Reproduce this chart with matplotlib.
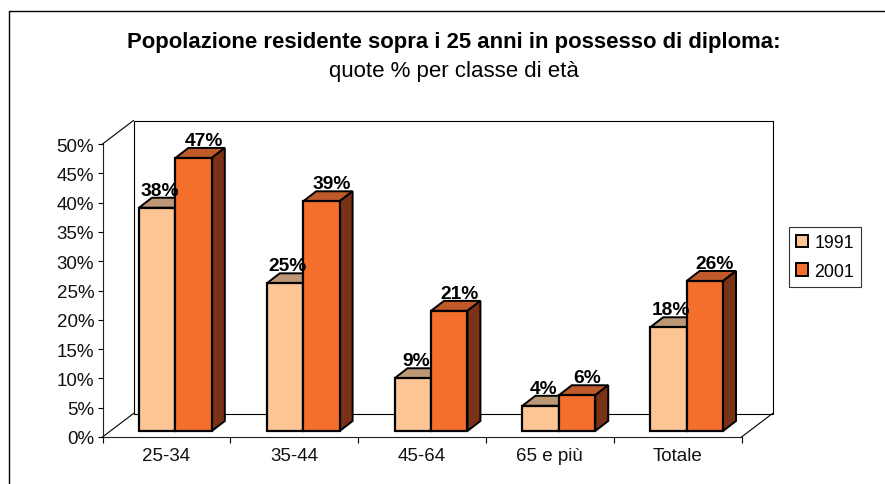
import matplotlib as mpl
mpl.use('agg')
import matplotlib.pyplot as plt
from matplotlib.patches import Polygon, Rectangle
from matplotlib.transforms import Affine2D

plt.rcParams['font.family'] = ['Liberation Sans', 'DejaVu Sans']

categories = ['25-34', '35-44', '45-64', '65 e più', 'Totale']
val_1991 = [38.1, 25.2, 9.0, 4.3, 17.7]
val_2001 = [46.6, 39.2, 20.5, 6.1, 25.6]
lab_1991 = ['38%', '25%', '9%', '4%', '18%']
lab_2001 = ['47%', '39%', '21%', '6%', '26%']
yticks = [0, 5, 10, 15, 20, 25, 30, 35, 40, 45, 50]

W, H = 885, 485
fig = plt.figure(figsize=(W / 100, H / 100), dpi=100)
# chart border, runs off the picture at the bottom and on the right
fig.add_artist(plt.Line2D([9 / W, 9 / W, 1], [0, 1 - 11.5 / H, 1 - 11.5 / H], color='black', lw=1.0))

# axis box in pixels: x 102-741, y 145-438
ax = fig.add_axes([102.5 / W, 1 - 438 / H, 639 / W, 293 / H])
ax.set_xlim(0, 5)
ax.set_ylim(0, 50)
ax.patch.set_alpha(0)
for s in ['top', 'right']:
    ax.spines[s].set_visible(False)
for s in ['left', 'bottom']:
    ax.spines[s].set_linewidth(0.8)
    ax.spines[s].set_color('#222222')
ax.set_xticks(range(6))
ax.set_xticklabels([])
ax.set_xticks([i + 0.5 for i in range(5)], minor=True)
ax.set_xticklabels(categories, minor=True, fontsize=13.5)
ax.tick_params(axis='x', which='minor', length=0, pad=7, colors='#111111')
ax.tick_params(axis='x', which='major', length=4, width=0.8, direction='out')
ax.set_yticks(yticks)
ax.set_yticklabels(['%d%%' % v for v in yticks], fontsize=13.5, color='#111111')
ax.tick_params(axis='y', length=3.5, width=0.8, pad=2.5)


def shifted(dx, dy):
    # oblique depth of the fake 3d, in pixels
    return ax.transData + Affine2D().translate(dx, dy)


# back wall and the three edges going back to it
back = shifted(31, 23.5)
inv = ax.transData.inverted()
ax.plot([0, 0, 5, 5, 0], [0, 50, 50, 0, 0], transform=back, color='black', lw=0.8, clip_on=False, zorder=1)
for px, py in [(0, 0), (0, 50), (5, 0)]:
    p0 = ax.transData.transform((px, py))
    p1 = back.transform((px, py))
    q = inv.transform([p0, p1])
    ax.plot(q[:, 0], q[:, 1], color='black', lw=0.8, clip_on=False, zorder=1)

bw = 0.285
face_a, top_a, side_a = '#fdc595', '#bc9877', '#8a6a50'
face_b, top_b, side_b = '#f46f2c', '#c05a2a', '#7a3216'
front = shifted(9, 6)
dx, dy = 13, 10


def block(x, v, face, top, side):
    ax.bar(x, v, bw, align='edge', color=face, ec='black', lw=1.6, transform=front, clip_on=False, zorder=3)
    x0, y0 = front.transform((x, v))
    x1, y1 = front.transform((x + bw, v))
    x2, y2 = front.transform((x + bw, 0))
    t = [(x0, y0), (x1, y1), (x1 + dx, y1 + dy), (x0 + dx, y0 + dy)]
    s = [(x1, y1), (x1 + dx, y1 + dy), (x2 + dx, y2 + dy), (x2, y2)]
    ax.add_patch(Polygon(inv.transform(t), fc=top, ec='black', lw=1.4, clip_on=False, zorder=2.5))
    ax.add_patch(Polygon(inv.transform(s), fc=side, ec='black', lw=1.4, clip_on=False, zorder=2.5))


for i in range(5):
    xc = i + 0.5
    block(xc - bw, val_1991[i], face_a, top_a, side_a)
    block(xc, val_2001[i], face_b, top_b, side_b)
    ax.text(xc - bw / 2, val_1991[i], lab_1991[i], transform=shifted(12, 19), ha='center', va='baseline',
            fontsize=13.8, fontweight='bold', zorder=5)
    ax.text(xc + bw / 2, val_2001[i], lab_2001[i], transform=shifted(19, 19), ha='center', va='baseline',
            fontsize=13.8, fontweight='bold', zorder=5)

fig.text(454 / W, 1 - 48 / H, 'Popolazione residente sopra i 25 anni in possesso di diploma:', ha='center',
         va='baseline', fontsize=15.9, fontweight='bold')
fig.text(454 / W, 1 - 76.5 / H, 'quote % per classe di età', ha='center', va='baseline', fontsize=16)

leg = fig.legend(handles=[Rectangle((0, 0), 1, 1, fc=face_a, ec='black', lw=1.4, label='1991'),
                          Rectangle((0, 0), 1, 1, fc=face_b, ec='black', lw=1.4, label='2001')],
                 loc='upper left', bbox_to_anchor=(788.5 / W, 1 - 228 / H), fontsize=12.8, fancybox=False,
                 framealpha=1, edgecolor='#333333', handlelength=0.7, handleheight=0.7, handletextpad=0.35,
                 borderpad=0.4, labelspacing=0.65, borderaxespad=0)
leg.get_frame().set_linewidth(0.8)

fig.savefig('out.png', dpi=100)
